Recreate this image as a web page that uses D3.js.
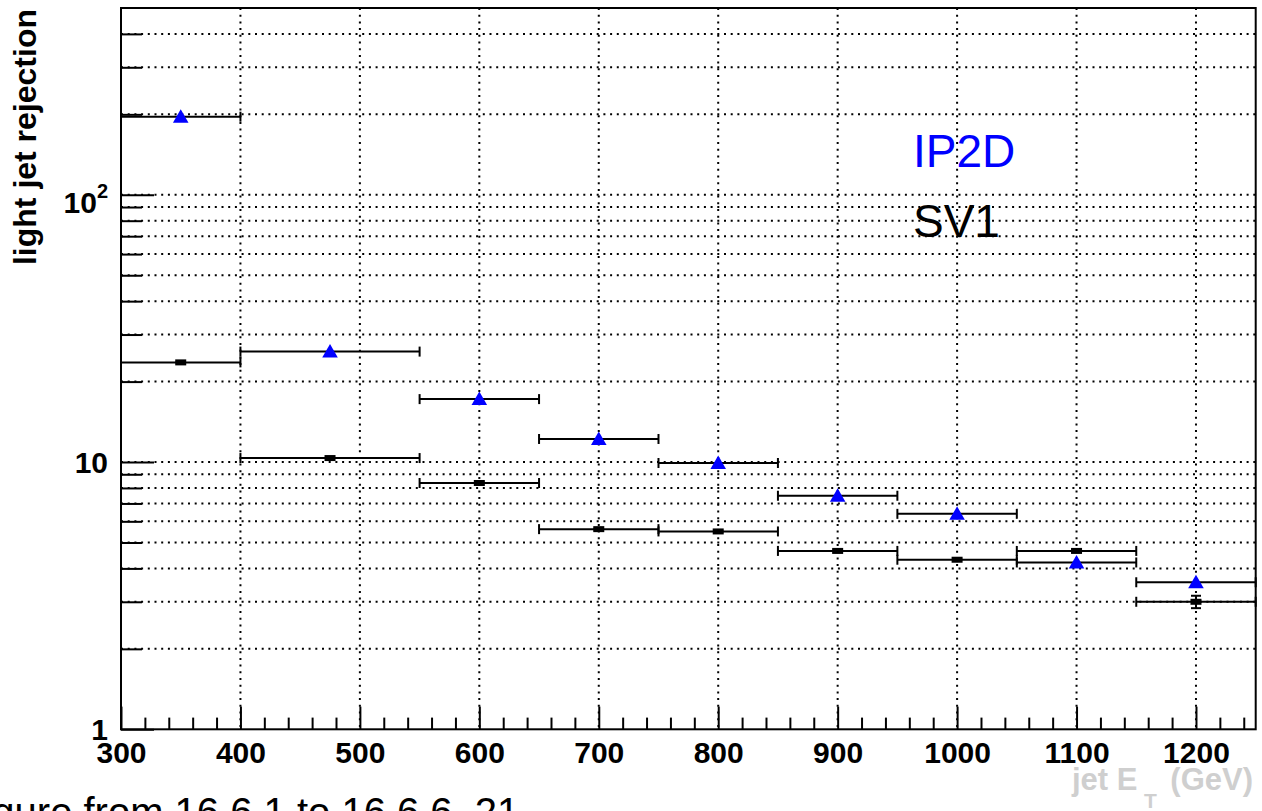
<!DOCTYPE html>
<html>
<head>
<meta charset="utf-8">
<script src="https://cdn.jsdelivr.net/npm/d3@7"></script>
<style>
  body { margin: 0; background: #fff; }
  svg { display: block; }
</style>
</head>
<body>
<div id="chart"></div>
<script>
// bins in jet ET (GeV)
const binLow = [300, 400, 550, 650, 750, 850, 950, 1050, 1150];
const binHigh = [400, 550, 650, 750, 850, 950, 1050, 1150, 1250];
const binCenter = [350, 475, 600, 700, 800, 900, 1000, 1100, 1200];

// light jet rejection per tagger
const ip2d = [196, 25.9, 17.2, 12.2, 9.92, 7.48, 6.4, 4.21, 3.55];
const sv1 = [23.6, 10.35, 8.35, 5.61, 5.5, 4.65, 4.31, 4.65, 3.0];
const sv1Err = [0.1, 0.05, 0.04, 0.03, 0.03, 0.02, 0.02, 0.03, 0.16];

// axis ticks
const xMajorTicks = [300, 400, 500, 600, 700, 800, 900, 1000, 1100, 1200];
const xMinorTicks = [320, 340, 360, 380, 420, 440, 460, 480, 520, 540, 560, 580,
  620, 640, 660, 680, 720, 740, 760, 780, 820, 840, 860, 880, 920, 940, 960, 980,
  1020, 1040, 1060, 1080, 1120, 1140, 1160, 1180, 1220, 1240];
const xGridTicks = [400, 500, 600, 700, 800, 900, 1000, 1100, 1200];
const yMajorTicks = [1, 10, 100];
const yMinorTicks = [2, 3, 4, 5, 6, 7, 8, 9, 20, 30, 40, 50, 60, 70, 80, 90, 200, 300, 400];
const yGridTicks = [2, 3, 4, 5, 6, 7, 8, 9, 10, 20, 30, 40, 50, 60, 70, 80, 90, 100, 200, 300, 400];

const legendLabels = ["IP2D", "SV1"];
const legendColors = ["#0000ff", "#000000"];

const width = 1262;
const height = 811;
const font = "'Liberation Sans', Arial, Helvetica, sans-serif";

const svg = d3.select("#chart").append("svg")
  .attr("width", width)
  .attr("height", height);

const x = d3.scaleLinear().domain([300, 1250]).range([121, 1255.7]);
const y = d3.scaleLog().domain([1, 500]).range([729.3, 8]);

const frameTop = y.range()[1];
const frameBottom = y.range()[0];
const frameLeft = x.range()[0];
const frameRight = x.range()[1];

// dotted grid
const grid = svg.append("g")
  .attr("stroke", "#000")
  .attr("stroke-width", 2)
  .attr("stroke-dasharray", "2,4.7");

grid.selectAll(".gx").data(xGridTicks).join("line")
  .attr("x1", (d) => x(d)).attr("x2", (d) => x(d))
  .attr("y1", frameTop).attr("y2", frameBottom);

grid.selectAll(".gy").data(yGridTicks).join("line")
  .attr("x1", frameLeft).attr("x2", frameRight)
  .attr("y1", (d) => y(d)).attr("y2", (d) => y(d));

// ticks point into the frame
const styleAxis = (g) => {
  g.select(".domain").remove();
  g.selectAll(".tick line").attr("stroke", "#000").attr("stroke-width", 2);
  g.attr("font-family", font).attr("font-size", 30).attr("font-weight", "bold");
};

svg.append("g")
  .attr("transform", `translate(0,${frameBottom})`)
  .call(d3.axisBottom(x).tickValues(xMinorTicks).tickSize(-11.7).tickFormat(""))
  .call(styleAxis);

svg.append("g")
  .attr("transform", `translate(0,${frameBottom})`)
  .call(d3.axisBottom(x).tickValues(xMajorTicks).tickSize(-22.7).tickFormat(d3.format("d")))
  .call(styleAxis)
  .call((g) => g.selectAll("text").attr("y", 34).attr("dy", 0).attr("fill", "#000"));

// y axis (log)
svg.append("g")
  .attr("transform", `translate(${frameLeft},0)`)
  .call(d3.axisLeft(y).tickValues(yMinorTicks).tickSize(-21).tickFormat(""))
  .call(styleAxis);

svg.append("g")
  .attr("transform", `translate(${frameLeft},0)`)
  .call(d3.axisLeft(y).tickValues(yMajorTicks).tickSize(-33).tickPadding(13)
    .tickFormat((d) => (d === 100 ? "10" : d3.format("d")(d))))
  .call(styleAxis)
  .call((g) => g.selectAll("text").attr("fill", "#000").attr("dy", "0.34em"))
  .call((g) => g.selectAll("text").filter((d) => d === 100)
    .attr("dy", 18)
    .append("tspan")
    .attr("font-size", 20)
    .attr("dy", -15)
    .text("2"));

// frame
svg.append("rect")
  .attr("x", frameLeft).attr("y", frameTop)
  .attr("width", frameRight - frameLeft).attr("height", frameBottom - frameTop)
  .attr("fill", "none")
  .attr("stroke", "#000")
  .attr("stroke-width", 2);

// horizontal error bars (bin widths) with end caps
const drawBins = (values, name) => {
  const g = svg.append("g").attr("class", name)
    .attr("stroke", "#000").attr("stroke-width", 2);
  g.selectAll(".bar").data(values).join("line")
    .attr("x1", (d, i) => x(binLow[i])).attr("x2", (d, i) => x(binHigh[i]))
    .attr("y1", (d) => y(d)).attr("y2", (d) => y(d));
  g.selectAll(".capl").data(values).join("line")
    .attr("x1", (d, i) => x(binLow[i])).attr("x2", (d, i) => x(binLow[i]))
    .attr("y1", (d) => y(d) - 5).attr("y2", (d) => y(d) + 5);
  g.selectAll(".caph").data(values).join("line")
    .attr("x1", (d, i) => x(binHigh[i])).attr("x2", (d, i) => x(binHigh[i]))
    .attr("y1", (d) => y(d) - 5).attr("y2", (d) => y(d) + 5);
  return g;
};

drawBins(sv1, "sv1");
drawBins(ip2d, "ip2d");

// SV1 vertical errors and markers
const sv1Group = svg.append("g").attr("stroke", "#000").attr("stroke-width", 2);
sv1Group.selectAll(".ev").data(sv1).join("line")
  .attr("x1", (d, i) => x(binCenter[i])).attr("x2", (d, i) => x(binCenter[i]))
  .attr("y1", (d, i) => y(d + sv1Err[i])).attr("y2", (d, i) => y(d - sv1Err[i]));
sv1Group.selectAll(".eh").data(sv1).join("line")
  .attr("x1", (d, i) => x(binCenter[i]) - 5).attr("x2", (d, i) => x(binCenter[i]) + 5)
  .attr("y1", (d, i) => y(d + sv1Err[i])).attr("y2", (d, i) => y(d + sv1Err[i]));
sv1Group.selectAll(".el").data(sv1).join("line")
  .attr("x1", (d, i) => x(binCenter[i]) - 5).attr("x2", (d, i) => x(binCenter[i]) + 5)
  .attr("y1", (d, i) => y(d - sv1Err[i])).attr("y2", (d, i) => y(d - sv1Err[i]));

svg.append("g").selectAll("rect").data(sv1).join("rect")
  .attr("x", (d, i) => x(binCenter[i]) - 5.5)
  .attr("y", (d) => y(d) - 3)
  .attr("width", 11)
  .attr("height", 6)
  .attr("fill", "#000");

// IP2D triangles
svg.append("g").selectAll("path").data(ip2d).join("path")
  .attr("d", d3.symbol(d3.symbolTriangle, 105))
  .attr("transform", (d, i) => `translate(${x(binCenter[i])},${y(d) + 1.5})`)
  .attr("fill", legendColors[0]);

// legend texts
svg.append("g").selectAll("text").data(legendLabels).join("text")
  .attr("x", 913)
  .attr("y", (d, i) => 166.7 + i * 70.6)
  .attr("font-family", font)
  .attr("font-size", 46)
  .attr("fill", (d, i) => legendColors[i])
  .text((d) => d);

// axis titles
svg.append("text")
  .attr("transform", "translate(36,9) rotate(-90)")
  .attr("text-anchor", "end")
  .attr("font-family", font)
  .attr("font-size", 32)
  .attr("font-weight", "bold")
  .attr("fill", "#000")
  .text("light jet rejection");

const xTitle = svg.append("g")
  .attr("font-family", font)
  .attr("font-weight", "bold")
  .attr("fill", "#cfcfcf");
xTitle.append("text").attr("x", 1072).attr("y", 790).attr("font-size", 31).text("jet E");
xTitle.append("text").attr("x", 1144).attr("y", 808).attr("font-size", 21).text("T");
xTitle.append("text").attr("x", 1253).attr("y", 790).attr("font-size", 31)
  .attr("text-anchor", "end").text("(GeV)");

// caption cut by the bottom edge
svg.append("text")
  .attr("x", -41)
  .attr("y", 826)
  .attr("font-family", font)
  .attr("font-size", 40)
  .attr("fill", "#000")
  .text("Figure from 16.6.1 to 16.6.6, 21");
</script>
</body>
</html>
